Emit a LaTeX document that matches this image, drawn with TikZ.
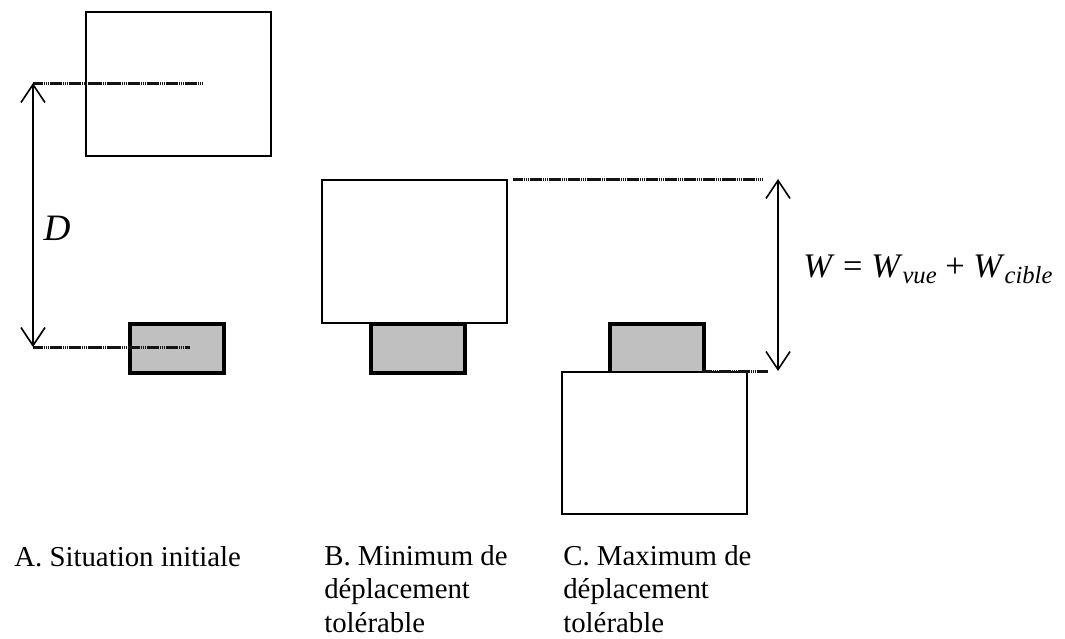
\documentclass[tikz,border=0pt]{standalone}
\usepackage{fontspec}
\setmainfont{Liberation Serif}
\usetikzlibrary{positioning,arrows.meta}
\definecolor{targetgrey}{RGB}{192, 192, 192}
\definecolor{guidegrey}{RGB}{20, 20, 20}
\newcommand{\wsub}[1]{\raisebox{-0.2em}{\fontsize{17.5}{20}\selectfont\itshape #1}}

\begin{document}
\begin{tikzpicture}[x=0.025cm, y=-0.025cm,
viewnode/.style={rectangle, draw=black, fill=white, line width=0.4mm, minimum width=185*0.025cm, minimum height=143*0.025cm, anchor=north west, inner sep=0pt},
targetnode/.style={rectangle, draw=black, fill=targetgrey, line width=0.9mm, minimum width=94*0.025cm, minimum height=49*0.025cm, anchor=north west, inner sep=0pt},
guide/.style={draw=guidegrey, line width=0.75mm, dash pattern=on 1.2pt off 0.3pt},
dimarrow/.style={{Straight Barb[length=4.5mm, width=6mm]}-{Straight Barb[length=4.5mm, width=6mm]}, line width=0.4mm},
caption/.style={anchor=base west, align=left, font=\fontsize{20.5}{23.5}\selectfont, inner sep=0pt}
]
\useasboundingbox (0,0) rectangle (1065,638);

%Nodes
%Nodes situation initiale
\node[viewnode, minimum height=144*0.025cm] 	(view_a) at (85,11) {};
\node[targetnode] 								(target_a) at (128,322) {};

%Nodes minimum
\node[viewnode] 								(view_b) at (321,179) {};
\node[targetnode] 								(target_b) at (369,322) {};

%Nodes maximum
\node[targetnode] 								(target_c) at (608,322) {};
\node[viewnode, minimum height=142*0.025cm] 	(view_c) at (561,371) {};

%Coordinates for the guides
\coordinate (d_top) at (33,83);
\coordinate (d_top_end) at (203,83);
\coordinate (d_bottom) at (33,347);
\coordinate (d_bottom_end) at (190,347);
\coordinate (w_top_start) at (513,179);
\coordinate (w_top_end) at (763,179);
\coordinate (w_bottom_start) at (702,371);
\coordinate (w_bottom_end) at (768,371);
\coordinate (w_top) at (778,179);
\coordinate (w_bottom) at (778,371);

%Guides
\draw [guide] (d_top) -- (d_top_end);
\draw [guide] (d_bottom) -- (d_bottom_end);
\draw [guide] (w_top_start) -- (w_top_end);
\draw [guide] (w_bottom_start) -- (w_bottom_end);

%Arrow
\draw [dimarrow] (d_top) -- (d_bottom);
\draw [dimarrow] (w_top) -- (w_bottom);

%Labels
\node[font=\fontsize{26.5}{30}\selectfont\itshape] (d_label) at (57,228) {D};
\node[font=\fontsize{24.5}{28}\selectfont, anchor=base west, inner sep=0pt] (w_label) at (803,277)
	{\textit{W}\hspace{0.25em}=\hspace{0.25em}\textit{W}\wsub{vue}\hspace{0.25em}+\hspace{0.25em}\textit{W}\wsub{cible}};

%Captions
\node[caption] (caption_a) at (14,566) {A. Situation initiale};
\node[caption] (caption_b) at (324,632) {B. Minimum de\\déplacement\\tolérable};
\node[caption] (caption_c) at (563,632) {C. Maximum de\\déplacement\\tolérable};

\end{tikzpicture}
\end{document}
